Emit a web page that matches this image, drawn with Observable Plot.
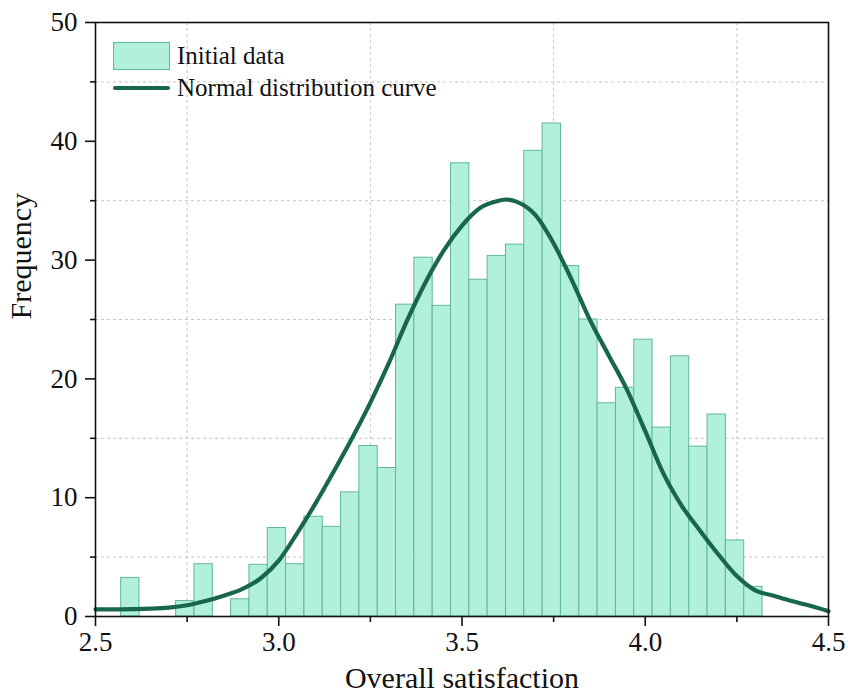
<!DOCTYPE html>
<html>
<head>
<meta charset="utf-8">
<script src="https://cdn.jsdelivr.net/npm/d3@7"></script>
<script src="https://cdn.jsdelivr.net/npm/@observablehq/plot@0.6"></script>
<style>
  html, body { margin: 0; padding: 0; background: #fff; }
  #wrap { position: relative; width: 848px; height: 697px; font-family: "Liberation Serif", "Times New Roman", serif; }
  #legend { position: absolute; left: 113px; top: 40px; font-size: 25px; color: #111; }
  .row { display: flex; align-items: center; height: 32px; }
  .sw { width: 57px; margin-right: 7px; box-sizing: border-box; }
</style>
</head>
<body>
<div id="wrap">
  <div id="chart"></div>
  <div id="legend">
    <div class="row"><div class="sw" id="swBar" style="height:28px"></div><span>Initial data</span></div>
    <div class="row"><div class="sw" id="swLine" style="height:4px;border-radius:2px"></div><span>Normal distribution curve</span></div>
  </div>
</div>
<script>
// Histogram bins (start of each 0.05-wide bin) and their frequencies
const binStart  = [2.57, 2.62, 2.67, 2.72, 2.77, 2.82, 2.87, 2.92, 2.97, 3.02, 3.07, 3.12, 3.17, 3.22, 3.27, 3.32, 3.37, 3.42, 3.47, 3.52, 3.57, 3.62, 3.67, 3.72, 3.77, 3.82, 3.87, 3.92, 3.97, 4.02, 4.07, 4.12, 4.17, 4.22, 4.27];
const frequency = [3.25, 0, 0, 1.3, 4.4, 0, 1.45, 4.35, 7.45, 4.4, 8.4, 7.55, 10.45, 14.35, 12.5, 26.25, 30.2, 26.15, 38.15, 28.35, 30.35, 31.3, 39.2, 41.5, 29.5, 25.0, 17.95, 19.25, 23.3, 15.9, 21.9, 14.3, 17.0, 6.4, 2.5];
const binWidth = 0.05;

// Normal distribution curve
const curveX = [2.5, 2.55, 2.6, 2.65, 2.7, 2.75, 2.8, 2.85, 2.9, 2.95, 3.0, 3.05, 3.1, 3.15, 3.2, 3.25, 3.3, 3.35, 3.4, 3.45, 3.5, 3.55, 3.6, 3.62, 3.65, 3.7, 3.75, 3.8, 3.85, 3.9, 3.95, 4.0, 4.05, 4.1, 4.15, 4.2, 4.25, 4.3, 4.35, 4.4, 4.45, 4.5];
const curveY = [0.6, 0.6, 0.62, 0.66, 0.75, 0.95, 1.3, 1.75, 2.3, 3.2, 4.7, 7.0, 9.5, 12.2, 15.0, 18.0, 21.3, 24.9, 28.1, 30.8, 32.9, 34.4, 35.0, 35.1, 34.9, 33.8, 31.4, 28.3, 24.9, 22.0, 19.1, 15.6, 12.0, 9.3, 7.2, 5.2, 3.4, 2.2, 1.75, 1.3, 0.9, 0.45];

const xMajor = [2.5, 3.0, 3.5, 4.0, 4.5];
const xMinor = [2.75, 3.25, 3.75, 4.25];
const yMajor = [0, 10, 20, 30, 40, 50];
const yMinor = [5, 15, 25, 35, 45];

const barFill = "#b1f0dc";
const barStroke = "#62b797";
const lineColor = "#18674a";

const bins = binStart.map((x0, i) => ({x0, x1: x0 + binWidth, count: frequency[i]})).filter(d => d.count > 0);
const curve = curveX.map((x, i) => ({x, y: curveY[i]}));
const blank = () => "";

const chart = Plot.plot({
  width: 848,
  height: 697,
  marginLeft: 95,
  marginRight: 20,
  marginTop: 22,
  marginBottom: 81,
  x: {domain: [2.5, 4.5]},
  y: {domain: [0, 50]},
  style: {fontFamily: "'Liberation Serif', 'Times New Roman', serif", background: "white", color: "#111", overflow: "visible"},
  marks: [
    Plot.gridX(xMinor, {stroke: "#c4c4c4", strokeOpacity: 1, strokeDasharray: "3,3", strokeWidth: 1}),
    Plot.gridY(yMinor, {stroke: "#c4c4c4", strokeOpacity: 1, strokeDasharray: "3,3", strokeWidth: 1}),
    Plot.rectY(bins, {x1: "x0", x2: "x1", y: "count", fill: barFill, stroke: barStroke, strokeWidth: 1}),
    Plot.line(curve, {x: "x", y: "y", curve: "monotone-x", stroke: lineColor, strokeWidth: 4.2}),
    Plot.frame({stroke: "#111", strokeWidth: 1.6}),
    Plot.axisX({ticks: xMajor, tickSize: 10, tickPadding: 5, strokeWidth: 1.6, fontSize: 27, tickFormat: d3.format(".1f"), label: null}),
    Plot.axisX({ticks: xMinor, tickSize: 6, strokeWidth: 1.6, tickFormat: blank, label: null}),
    Plot.axisY({ticks: yMajor, tickSize: 10, tickPadding: 8, strokeWidth: 1.6, fontSize: 27, tickFormat: d3.format("d"), label: null}),
    Plot.axisY({ticks: yMinor, tickSize: 5, strokeWidth: 1.6, tickFormat: blank, label: null}),
    Plot.text(["Overall satisfaction"], {frameAnchor: "bottom", dy: 71, fontSize: 30, fill: "#111"}),
    Plot.text(["Frequency"], {frameAnchor: "left", dx: -74, rotate: -90, fontSize: 30, fill: "#111"})
  ]
});
document.getElementById("chart").appendChild(chart);

const swBar = document.getElementById("swBar");
swBar.style.background = barFill;
swBar.style.border = "1px solid " + barStroke;
document.getElementById("swLine").style.background = lineColor;
</script>
</body>
</html>
